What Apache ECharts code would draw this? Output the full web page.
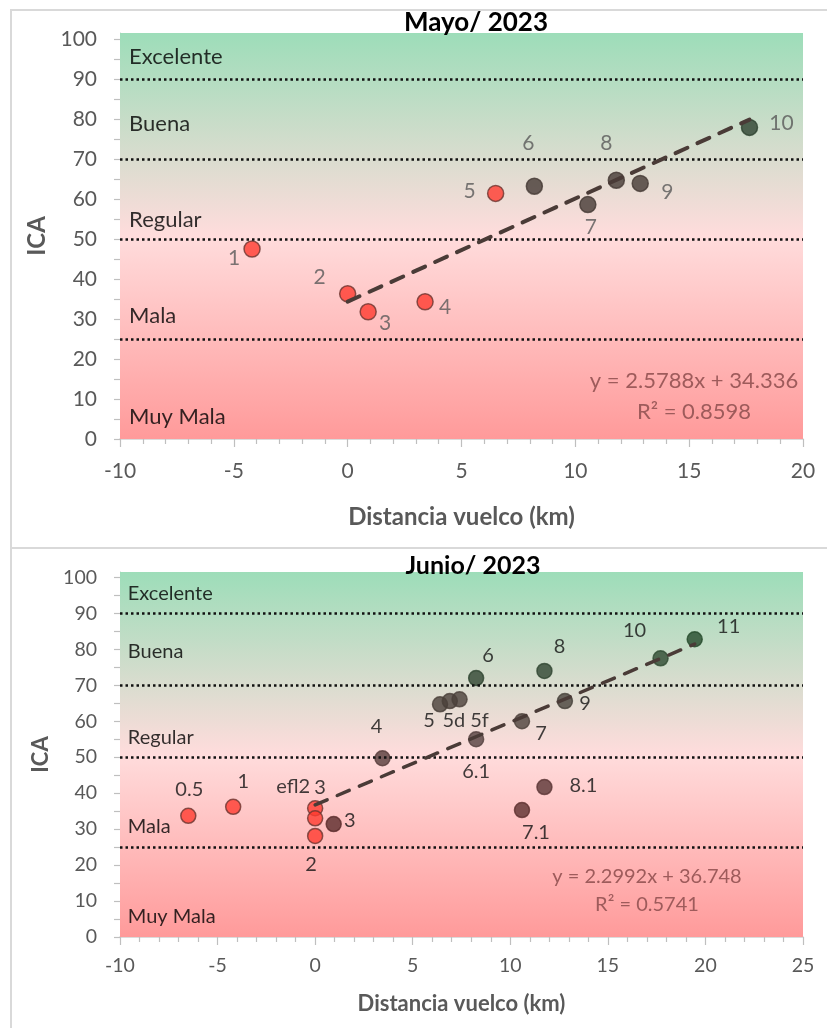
<!DOCTYPE html>
<html>
<head>
<meta charset="utf-8">
<script src="https://cdn.jsdelivr.net/npm/echarts@6/dist/echarts.min.js"></script>
<style>
html,body{margin:0;padding:0;background:#fff;}
#c{width:827px;height:1028px;}
</style>
</head>
<body>
<div id="c"></div>
<script>
// ================= DATA =================
// Mayo 2023
const mayTitle = 'Mayo/ 2023';
const mayLabels = ['1', '2', '3', '4', '5', '6', '7', '8', '9', '10'];
const mayX = [-4.2, 0, 0.9, 3.4, 6.5, 8.2, 10.55, 11.8, 12.85, 17.65];
const mayY = [47.5, 36.3, 31.8, 34.3, 61.4, 63.2, 58.6, 64.7, 63.9, 77.9];
const mayTrend = [2.5788, 34.336];   // slope, intercept
const mayR2 = 0.8598;
const mayXRange = [-10, 20];

// Junio 2023
const junTitle = 'Junio/ 2023';
const junLabels = ['0.5', '1', 'efl2', '3', '2', '3', '4', '5', '5d', '5f', '6', '6.1', '7', '7.1', '8', '8.1', '9', '10', '11'];
const junX = [-6.5, -4.2, 0, 0, 0, 0.95, 3.45, 6.4, 6.9, 7.4, 8.25, 8.25, 10.6, 10.6, 11.75, 11.75, 12.8, 17.7, 19.45];
const junY = [33.7, 36.2, 35.8, 33.0, 28.1, 31.4, 49.7, 64.7, 65.6, 66.1, 72.0, 55.0, 60.0, 35.3, 74.0, 41.7, 65.6, 77.5, 82.8];
const junTrend = [2.2992, 36.748];
const junR2 = 0.5741;
const junXRange = [-10, 25];

// Quality bands
const bandNames = ['Excelente', 'Buena', 'Regular', 'Mala', 'Muy Mala'];
const bandLimits = [90, 70, 50, 25];
const yRange = [0, 100];
const yLabelValues = [0, 10, 20, 30, 40, 50, 60, 70, 80, 90, 100];
const yTickValues = [0, 5, 10, 15, 20, 25, 30, 35, 40, 45, 50, 55, 60, 65, 70, 75, 80, 85, 90, 95, 100];
const xAxisName = 'Distancia vuelco (km)';
const yAxisName = 'ICA';

// ================= STYLE / LAYOUT =================
const RED = '#FF3B30', DARK = '#453a35', GREEN = '#2f4531';
const mayColors = [RED, RED, RED, RED, RED, DARK, DARK, DARK, DARK, '#2d4230'];
const junColors = [RED, RED, RED, RED, RED, '#5a2b2b', '#563b3a', '#4a403a', '#4a403a', '#4a403a', GREEN, '#54403e', '#4d423c', '#5c2f2e', GREEN, '#5a3535', '#47423b', '#2e4a31', '#244a2a'];
const mayOffsets = [[-18, 9], [-28, -17], [17, 11], [20, 5], [-26, -2], [-6, -43], [3, 23], [-10, -37], [27, 9], [32, -4]];
const junOffsets = [[1, -26], [10, -25], [-22, -22], [5, -31], [-4, 29], [16, -4], [-6, -32], [-11, 16], [4, 19], [20, 21], [12, -23], [0, 32], [19, 12], [14, 22], [15, -24], [39, -1], [20, 2], [-26, -28], [34, -13]];
const mayBandLabelY = [95.5, 78.8, 54.8, 30.8, 5.6];
const junBandLabelY = [95.6, 79.4, 55.5, 30.6, 5.8];
const FONT = 'Lato';
const Y_TOP_PAD = 101.5;

function panel(idx, o) {
  const grid = { left: 120, right: 24, top: o.gridTop, height: o.gridH, containLabel: false };
  const xAxis = {
    gridIndex: idx, type: 'value', min: o.xRange[0], max: o.xRange[1], interval: 5,
    axisLine: { show: true, onZero: false, lineStyle: { color: '#d0d0d0', width: 1.5 } },
    axisTick: { show: true, length: 8, lineStyle: { color: '#bfbfbf', width: 1.2 } },
    minorTick: { show: true, splitNumber: 5, length: 5, lineStyle: { color: '#bfbfbf', width: 1.2 } },
    splitLine: { show: false }, minorSplitLine: { show: false },
    axisLabel: { fontFamily: FONT, fontSize: o.tickFs, color: '#595959', margin: o.xLabelMargin },
    name: xAxisName, nameLocation: 'middle', nameGap: o.xNameGap,
    nameTextStyle: { fontFamily: FONT, fontSize: o.nameFs, fontWeight: 'bold', color: '#595959' }
  };
  const yAxis = {
    gridIndex: idx, type: 'value', min: yRange[0], max: Y_TOP_PAD,
    axisLine: { show: true, onZero: false, lineStyle: { color: '#c8c8c8', width: 1 } },
    axisTick: { show: true, length: 6, customValues: yTickValues, lineStyle: { color: '#bfbfbf', width: 1.2 } },
    splitLine: { show: false },
    axisLabel: { customValues: yLabelValues, fontFamily: FONT, fontSize: o.tickFs, color: '#595959', margin: 23 },
    name: yAxisName, nameLocation: 'middle', nameGap: o.yNameGap,
    nameTextStyle: { fontFamily: FONT, fontSize: o.nameFs, fontWeight: 'bold', color: '#595959' }
  };
  const grad = new echarts.graphic.LinearGradient(0, 0, 0, 1, [
    { offset: 0, color: '#9DDDB9' },
    { offset: 0.5, color: '#FFDCDC' },
    { offset: 1, color: '#FF9A9A' }
  ]);
  const bg = {
    type: 'scatter', xAxisIndex: idx, yAxisIndex: idx, z: 1, silent: true, data: [],
    markArea: {
      silent: true, itemStyle: { color: grad, opacity: 1, borderWidth: 0 }, label: { show: false },
      data: [[{ yAxis: yRange[0] }, { yAxis: Y_TOP_PAD }]]
    }
  };
  const thresholds = {
    type: 'scatter', xAxisIndex: idx, yAxisIndex: idx, z: 2, silent: true, data: [],
    markLine: {
      silent: true, symbol: ['none', 'none'], label: { show: false },
      lineStyle: { color: '#111', width: 2.5, type: [2.5, 3] },
      data: bandLimits.map(v => ({ yAxis: v }))
    }
  };
  const bands = {
    type: 'scatter', xAxisIndex: idx, yAxisIndex: idx, z: 3, silent: true, symbolSize: 0,
    data: bandNames.map((n, i) => ({ name: n, value: [-9.6, o.bandY[i]] })),
    label: { show: true, position: 'right', distance: 0, formatter: '{b}', fontFamily: FONT, fontSize: o.bandFs, color: '#000' }
  };
  const pts = {
    type: 'scatter', xAxisIndex: idx, yAxisIndex: idx, z: 4, symbol: 'circle', symbolSize: o.symSize,
    data: o.labels.map((l, i) => ({
      name: l, value: [o.xs[i], o.ys[i]],
      itemStyle: { color: o.colors[i], borderColor: o.colors[i] === RED ? '#6b3530' : o.colors[i], borderWidth: 1.5 },
      label: { offset: o.offsets[i] }
    })),
    label: { show: true, position: 'inside', formatter: '{b}', fontFamily: FONT, fontSize: o.ptFs, color: o.ptColor }
  };
  const posX = o.xs.filter(v => v >= 0);
  const t0 = Math.min(...posX), t1 = Math.max(...o.xs);
  const trend = {
    type: 'line', xAxisIndex: idx, yAxisIndex: idx, z: 5, silent: true, symbol: 'none', showSymbol: false,
    lineStyle: { color: '#4a3b37', width: o.trendW, type: [13, 11], cap: 'round' },
    data: [[t0, o.trend[0] * t0 + o.trend[1]], [t1, o.trend[0] * t1 + o.trend[1]]]
  };
  return { grid, xAxis, yAxis, series: [bg, thresholds, bands, trend, pts] };
}

const p1 = panel(0, {
  gridTop: 33, gridH: 406, xRange: mayXRange, xs: mayX, ys: mayY, labels: mayLabels,
  colors: mayColors, offsets: mayOffsets, bandY: mayBandLabelY, trend: mayTrend,
  tickFs: 21, nameFs: 24, bandFs: 22, ptFs: 21, ptColor: '#595959', symSize: 16, trendW: 4,
  xLabelMargin: 22, xNameGap: 66, yNameGap: 58
});
const p2 = panel(1, {
  gridTop: 572, gridH: 365, xRange: junXRange, xs: junX, ys: junY, labels: junLabels,
  colors: junColors, offsets: junOffsets, bandY: junBandLabelY, trend: junTrend,
  tickFs: 19.5, nameFs: 22, bandFs: 20, ptFs: 20, ptColor: '#111', symSize: 15, trendW: 3.5,
  xLabelMargin: 19, xNameGap: 56, yNameGap: 58
});

const eqColor = '#9E5B5B';
const option = {
  animation: false,
  backgroundColor: '#fff',
  title: [
    { text: mayTitle, left: 471, top: 5, textAlign: 'center', textStyle: { fontFamily: FONT, fontSize: 26, fontWeight: 'bold', color: '#000' } },
    { text: junTitle, left: 468, top: 548, textAlign: 'center', textStyle: { fontFamily: FONT, fontSize: 25, fontWeight: 'bold', color: '#000' } }
  ],
  grid: [p1.grid, p2.grid],
  xAxis: [p1.xAxis, p2.xAxis],
  yAxis: [p1.yAxis, p2.yAxis],
  series: [...p1.series, ...p2.series],
  graphic: [
    { type: 'rect', z: -10, silent: true, shape: { x: 11, y: 10, width: 840, height: 538 }, style: { fill: 'none', stroke: '#d9d9d9', lineWidth: 2 } },
    { type: 'rect', z: -10, silent: true, shape: { x: 11, y: 548, width: 840, height: 500 }, style: { fill: 'none', stroke: '#d9d9d9', lineWidth: 2 } },
    { type: 'text', z: 100, silent: true, x: 694, y: 396,
      style: { text: 'y = ' + mayTrend[0] + 'x + ' + mayTrend[1] + '\nR² = ' + mayR2, align: 'center', verticalAlign: 'middle', font: '22px Lato', fill: eqColor, lineHeight: 31 } },
    { type: 'text', z: 100, silent: true, x: 647, y: 891,
      style: { text: 'y = ' + junTrend[0] + 'x + ' + junTrend[1] + '\nR² = ' + junR2, align: 'center', verticalAlign: 'middle', font: '20px Lato', fill: eqColor, lineHeight: 28 } }
  ]
};

const chart = echarts.init(document.getElementById('c'), null, { renderer: 'canvas' });
chart.setOption(option);
</script>
</body>
</html>
